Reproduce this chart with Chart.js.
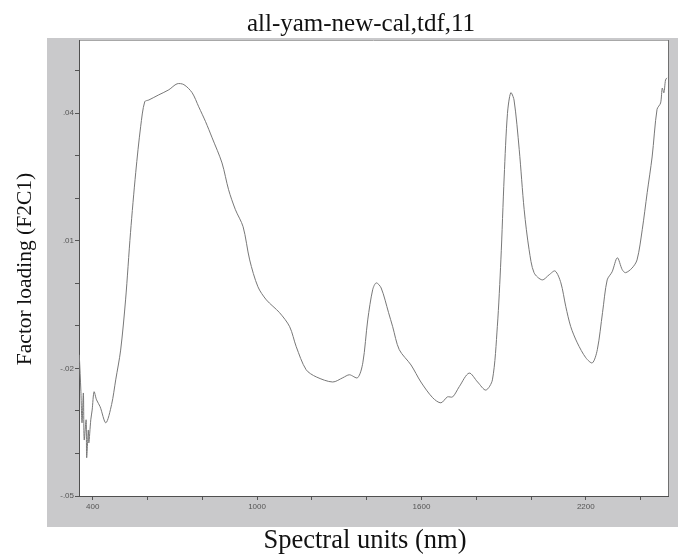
<!DOCTYPE html>
<html lang="en">

<head>
    <meta charset="UTF-8" />
    <title>all-yam-new-cal,tdf,11</title>
    <script src="https://cdn.jsdelivr.net/npm/chart.js"></script>
    <style>
        body {
            margin: 0;
            background: #fff;
        }

        canvas {
            display: block;
        }
    </style>
</head>

<body>
    <canvas id="loadingChart" width="678" height="556"></canvas>

    <script>
        // wavelength (nm) and factor loading
        const wavelength = [351, 357, 361, 366, 369, 376, 378, 384, 386, 393, 398, 405, 414, 427, 448, 469, 484, 502, 520, 538,
            557, 575, 590, 605, 641, 678, 708, 733, 763, 787, 812, 836, 872, 896, 921, 949, 973, 1003, 1034, 1082,
            1119, 1143, 1179, 1216, 1276, 1313, 1337, 1367, 1386, 1404, 1422, 1435, 1453, 1480, 1495, 1519, 1562, 1598, 1641, 1671,
            1695, 1714, 1738, 1774, 1805, 1835, 1859, 1877, 1890, 1902, 1914, 1926, 1938, 1957, 1975, 1993, 2011, 2041, 2066, 2088,
            2109, 2127, 2145, 2169, 2200, 2224, 2242, 2261, 2278, 2296, 2315, 2333, 2345, 2369, 2387, 2406, 2424, 2442, 2460, 2473,
            2479, 2485, 2491, 2496];
        const loading = [-0.0168, -0.0255, -0.0328, -0.0258, -0.0368, -0.0321, -0.0410, -0.0345, -0.0375, -0.0321, -0.0298, -0.0255, -0.0274, -0.0290, -0.0328, -0.0285, -0.0227, -0.0157, -0.0039, 0.0119,
            0.0260, 0.0368, 0.0427, 0.0431, 0.0443, 0.0455, 0.0469, 0.0467, 0.0448, 0.0415, 0.0380, 0.0342, 0.0283, 0.0220, 0.0173, 0.0133, 0.0055, -0.0008, -0.0039, -0.0069,
            -0.0102, -0.0149, -0.0203, -0.0220, -0.0232, -0.0222, -0.0215, -0.0222, -0.0187, -0.0086, -0.0015, 0.0001, -0.0011, -0.0069, -0.0102, -0.0156, -0.0192, -0.0232, -0.0269, -0.0281,
            -0.0267, -0.0267, -0.0243, -0.0211, -0.0232, -0.0251, -0.0227, -0.0102, 0.0055, 0.0250, 0.0399, 0.0448, 0.0431, 0.0314, 0.0173, 0.0079, 0.0025, 0.0008, 0.0020, 0.0029,
            0.0001, -0.0055, -0.0102, -0.0140, -0.0175, -0.0187, -0.0156, -0.0069, 0.0008, 0.0027, 0.0060, 0.0032, 0.0025, 0.0036, 0.0055, 0.0126, 0.0213, 0.0297, 0.0409, 0.0424,
            0.0459, 0.0448, 0.0478, 0.0483];

        // tick marks and the few that carry labels
        const xTicks = [400, 600, 800, 1000, 1200, 1400, 1600, 1800, 2000, 2200, 2400];
        const xTickLabels = { 400: '400', 1000: '1000', 1600: '1600', 2200: '2200' };
        const yTicks = [-0.05, -0.04, -0.03, -0.02, -0.01, 0, 0.01, 0.02, 0.03, 0.04, 0.05];
        const yTickLabels = { '-0.05': '-.05', '-0.02': '-.02', '0.01': '.01', '0.04': '.04' };

        const chartTitle = 'all-yam-new-cal,tdf,11';
        const xTitle = 'Spectral units (nm)';
        const yTitle = 'Factor loading (F2C1)';

        const serif = '"Liberation Serif", "DejaVu Serif", serif';

        // grey panel, white plot area and the serif titles
        const frame = {
            id: 'frame',
            beforeDraw(chart) {
                const { ctx, chartArea: a } = chart;
                ctx.save();
                ctx.fillStyle = '#c9c9cb';
                ctx.fillRect(47, 38, 631, 489);
                ctx.fillStyle = '#fff';
                ctx.fillRect(a.left, a.top, a.right - a.left, a.bottom - a.top);
                ctx.strokeStyle = '#a8a8a8';
                ctx.lineWidth = 1;
                ctx.beginPath();
                ctx.moveTo(a.left, a.top + 0.5);
                ctx.lineTo(a.right, a.top + 0.5);
                ctx.stroke();
                ctx.strokeStyle = '#707070';
                ctx.beginPath();
                ctx.moveTo(a.right + 0.5, a.top);
                ctx.lineTo(a.right + 0.5, a.bottom);
                ctx.stroke();
                ctx.restore();
            },
            afterDraw(chart) {
                const { ctx } = chart;
                ctx.save();
                ctx.fillStyle = '#111';
                ctx.textAlign = 'center';
                ctx.textBaseline = 'alphabetic';
                ctx.font = '25px ' + serif;
                ctx.fillText(chartTitle, 361, 31);
                ctx.font = '26.5px ' + serif;
                ctx.fillText(xTitle, 365, 548);
                ctx.font = '21.5px ' + serif;
                ctx.translate(31, 269);
                ctx.rotate(-Math.PI / 2);
                ctx.fillText(yTitle, 0, 0);
                ctx.restore();
            }
        };

        const tickFont = { family: '"Liberation Sans", Arial, sans-serif', size: 8 };

        new Chart(document.getElementById('loadingChart'), {
            type: 'line',
            data: {
                datasets: [{
                    data: wavelength.map((w, i) => ({ x: w, y: loading[i] })),
                    borderColor: '#787878',
                    borderWidth: 1,
                    pointRadius: 0,
                    tension: 0.3,
                    fill: false
                }]
            },
            options: {
                responsive: false,
                animation: false,
                devicePixelRatio: 1,
                layout: { padding: { left: 47, right: 10, top: 40, bottom: 29 } },
                plugins: {
                    legend: { display: false },
                    tooltip: { enabled: false },
                    title: { display: false }
                },
                scales: {
                    x: {
                        type: 'linear',
                        min: 350,
                        max: 2500,
                        afterBuildTicks: s => { s.ticks = xTicks.map(v => ({ value: v })); },
                        afterFit: s => { s.height = 31; },
                        grid: { drawOnChartArea: false, drawTicks: true, tickLength: 4, color: '#555' },
                        border: { display: true, color: '#505050', width: 1 },
                        ticks: {
                            autoSkip: false,
                            maxRotation: 0,
                            padding: 2,
                            color: '#555',
                            font: tickFont,
                            callback: v => xTickLabels[v] || ''
                        }
                    },
                    y: {
                        min: -0.05,
                        max: 0.0572,
                        afterBuildTicks: s => { s.ticks = yTicks.map(v => ({ value: v })); },
                        afterFit: s => { s.width = 32; },
                        grid: { drawOnChartArea: false, drawTicks: true, tickLength: 4, color: '#555' },
                        border: { display: true, color: '#505050', width: 1 },
                        ticks: {
                            autoSkip: false,
                            padding: 1,
                            color: '#555',
                            font: tickFont,
                            callback: v => yTickLabels[String(Math.round(v * 100) / 100)] || ''
                        }
                    }
                }
            },
            plugins: [frame]
        });
    </script>
</body>

</html>
